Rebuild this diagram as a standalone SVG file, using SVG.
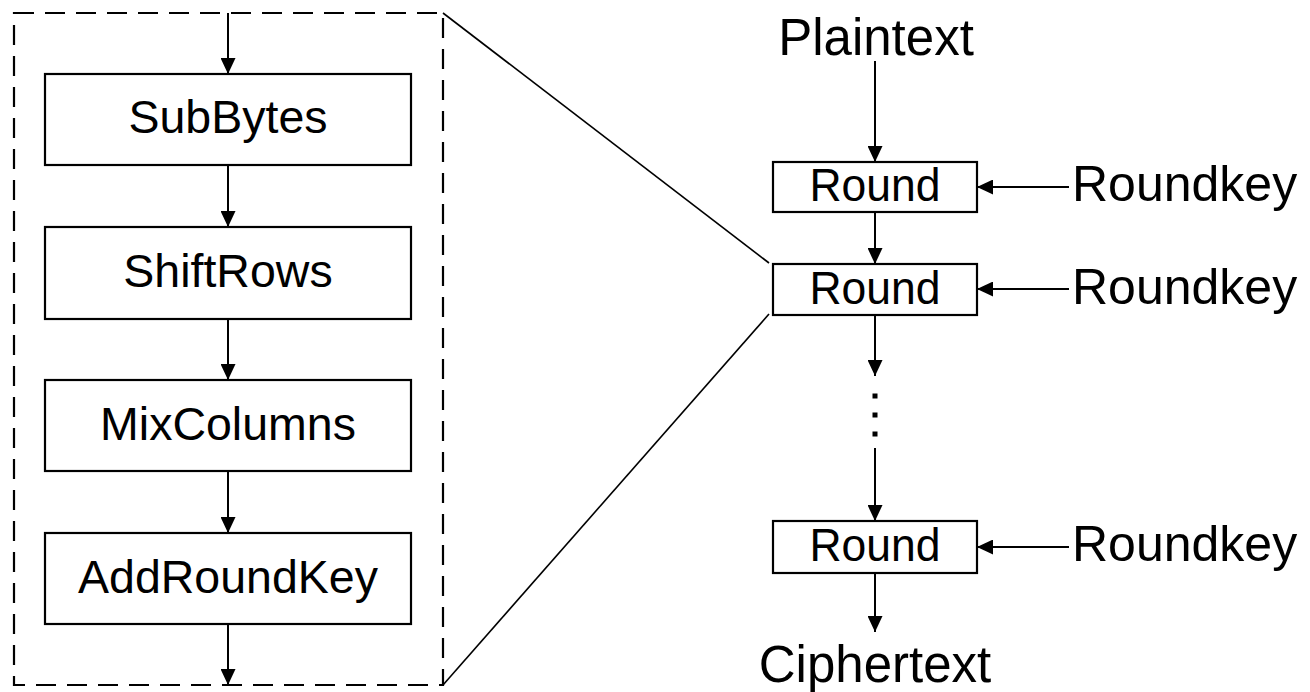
<svg xmlns="http://www.w3.org/2000/svg" width="1310" height="692" viewBox="0 0 1310 692">
  <style>
    .box { fill: #ffffff; stroke: #000000; stroke-width: 2.2; }
    .lbl { font-family: "Liberation Sans", Arial, sans-serif; fill: #000000; text-anchor: middle; }
    .step { font-size: 46.5px; }
    .big { font-size: 51px; }
    .key { font-size: 50px; text-anchor: start; }
    .rnd { font-size: 47px; }
    .wire { stroke: #000000; stroke-width: 2; fill: none; }
    .arrow { marker-end: url(#head); }
    .frame { fill: none; stroke: #000000; stroke-width: 2.2; stroke-dasharray: 20 11; }
    .zoom { stroke: #000000; stroke-width: 1.6; fill: none; }
  </style>
  <defs>
    <marker id="head" viewBox="0 0 16 15" refX="16" refY="7.5" markerWidth="16" markerHeight="15" markerUnits="userSpaceOnUse" orient="auto">
      <path d="M0,0 L16,7.5 L0,15 z" fill="#000000"/>
    </marker>
  </defs>

  <rect width="1310" height="692" fill="#ffffff"/>

  <!-- expanded view of a single round -->
  <rect id="round-detail" class="frame" x="14" y="13" width="429" height="672"/>

  <!-- lines linking the expanded view to the second round -->
  <g id="zoom-lines">
    <line class="zoom" x1="443" y1="13" x2="769" y2="263"/>
    <line class="zoom" x1="443" y1="685" x2="769" y2="314"/>
  </g>

  <g id="connectors">
    <!-- inside one round -->
    <line class="wire arrow" x1="228" y1="13" x2="228" y2="74"/>
    <line class="wire arrow" x1="228" y1="165" x2="228" y2="227"/>
    <line class="wire arrow" x1="228" y1="319" x2="228" y2="380"/>
    <line class="wire arrow" x1="228" y1="471" x2="228" y2="533"/>
    <line class="wire arrow" x1="228" y1="624" x2="228" y2="685"/>
    <!-- cipher chain -->
    <line class="wire arrow" x1="875" y1="61" x2="875" y2="162"/>
    <line class="wire arrow" x1="875" y1="212" x2="875" y2="264"/>
    <line class="wire arrow" x1="875" y1="315" x2="875" y2="376"/>
    <line class="wire arrow" x1="875" y1="448" x2="875" y2="521"/>
    <line class="wire arrow" x1="875" y1="573" x2="875" y2="632"/>
    <!-- round keys -->
    <line class="wire arrow" x1="1069" y1="187" x2="977" y2="187"/>
    <line class="wire arrow" x1="1069" y1="289" x2="977" y2="289"/>
    <line class="wire arrow" x1="1069" y1="547" x2="977" y2="547"/>
    <!-- ellipsis -->
    <rect x="872.5" y="393.5" width="5" height="5" fill="#000000"/>
    <rect x="872.5" y="412.5" width="5" height="5" fill="#000000"/>
    <rect x="872.5" y="431.5" width="5" height="5" fill="#000000"/>
  </g>

  <g id="subbytes">
    <rect class="box" x="45" y="74" width="366" height="91"/>
    <text class="lbl step" x="228" y="133">SubBytes</text>
  </g>
  <g id="shiftrows">
    <rect class="box" x="45" y="227" width="366" height="92"/>
    <text class="lbl step" x="228" y="287">ShiftRows</text>
  </g>
  <g id="mixcolumns">
    <rect class="box" x="45" y="380" width="366" height="91"/>
    <text class="lbl step" x="228" y="440">MixColumns</text>
  </g>
  <g id="addroundkey">
    <rect class="box" x="45" y="533" width="366" height="91"/>
    <text class="lbl step" x="228" y="593">AddRoundKey</text>
  </g>

  <g id="plaintext">
    <text class="lbl big" x="876" y="55">Plaintext</text>
  </g>
  <g id="round-1">
    <rect class="box" x="773" y="162" width="204" height="50"/>
    <text class="lbl rnd" x="875" y="201" textLength="131" lengthAdjust="spacingAndGlyphs">Round</text>
  </g>
  <g id="roundkey-1">
    <text class="lbl key" x="1072" y="201">Roundkey</text>
  </g>
  <g id="round-2">
    <rect class="box" x="773" y="264" width="204" height="51"/>
    <text class="lbl rnd" x="875" y="304" textLength="131" lengthAdjust="spacingAndGlyphs">Round</text>
  </g>
  <g id="roundkey-2">
    <text class="lbl key" x="1072" y="304">Roundkey</text>
  </g>
  <g id="round-n">
    <rect class="box" x="773" y="521" width="204" height="52"/>
    <text class="lbl rnd" x="875" y="561" textLength="131" lengthAdjust="spacingAndGlyphs">Round</text>
  </g>
  <g id="roundkey-n">
    <text class="lbl key" x="1072" y="561">Roundkey</text>
  </g>
  <g id="ciphertext">
    <text class="lbl big" x="875" y="682">Ciphertext</text>
  </g>
</svg>
